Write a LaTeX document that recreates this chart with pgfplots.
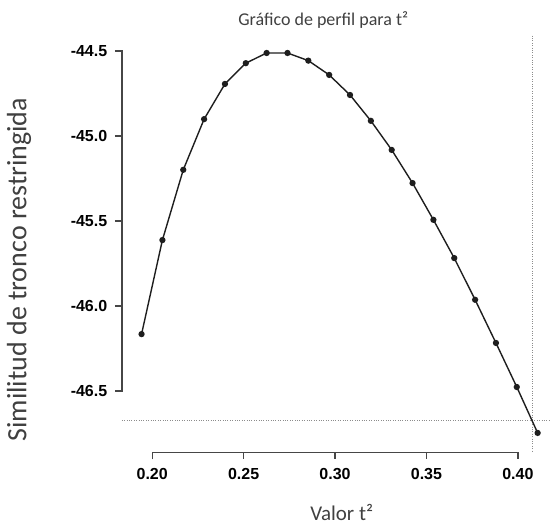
\documentclass[border=0pt]{standalone}
\usepackage{pgfplots}
\pgfplotsset{compat=1.18}
\usepackage{fontspec}
\setmainfont{Carlito}
\newfontfamily\arialfont{Liberation Sans}
\definecolor{curve}{HTML}{1E1E1E}
\definecolor{dotgray}{HTML}{8C8C8C}
\definecolor{axc}{RGB}{70,70,70}
\begin{document}
\begin{tikzpicture}
\begin{axis}[
  scale only axis, width=550pt, height=526pt,
  xmin=0.11678, xmax=0.41732, ymin=-47.2908, ymax=-44.2004,
  hide axis, clip=false,
]
\path (rel axis cs:0,0) rectangle (rel axis cs:1,1);
% reference lines
\addplot[dotgray, line width=0.9pt, dash pattern=on 1pt off 1.4pt, forget plot] coordinates {(0.18344,-46.672) (0.41732,-46.672)};
\addplot[dotgray, line width=0.9pt, dash pattern=on 1pt off 1.4pt, forget plot] coordinates {(0.4077,-44.41) (0.4077,-46.86)};
% y axis
\addplot[axc, line width=1.3pt, mark=none, forget plot] coordinates {(0.17961,-44.5) (0.18344,-44.5) (0.18344,-46.5) (0.17961,-46.5)};
\addplot[axc, line width=1.3pt, mark=none, forget plot] coordinates {(0.17961,-45.0) (0.18344,-45.0)};
\addplot[axc, line width=1.3pt, mark=none, forget plot] coordinates {(0.17961,-45.5) (0.18344,-45.5)};
\addplot[axc, line width=1.3pt, mark=none, forget plot] coordinates {(0.17961,-46.0) (0.18344,-46.0)};
% x axis
\addplot[axc, line width=1.3pt, mark=none, forget plot] coordinates {(0.20,-46.901) (0.20,-46.860) (0.40,-46.860) (0.40,-46.901)};
\addplot[axc, line width=1.3pt, mark=none, forget plot] coordinates {(0.25,-46.860) (0.25,-46.901)};
\addplot[axc, line width=1.3pt, mark=none, forget plot] coordinates {(0.30,-46.860) (0.30,-46.901)};
\addplot[axc, line width=1.3pt, mark=none, forget plot] coordinates {(0.35,-46.860) (0.35,-46.901)};
% data
\addplot[curve, line width=1.4pt, mark=*, mark size=2.4pt, mark options={fill=curve, draw=curve}] coordinates {
(0.1942,-46.165) (0.2056,-45.612) (0.2170,-45.199) (0.2284,-44.901)
(0.2398,-44.694) (0.2512,-44.572) (0.2626,-44.512) (0.2740,-44.512)
(0.2854,-44.557) (0.2968,-44.641) (0.3082,-44.759) (0.3196,-44.911)
(0.3310,-45.082) (0.3424,-45.277) (0.3538,-45.493) (0.3652,-45.718)
(0.3766,-45.963) (0.3880,-46.217) (0.3994,-46.476) (0.4108,-46.746)
};
\node[anchor=east, inner sep=0pt, xshift=-14.5pt, font=\arialfont\bfseries\fontsize{16}{18}\selectfont] at (axis cs:0.18344,-44.5) {-44.5};
\node[anchor=east, inner sep=0pt, xshift=-14.5pt, font=\arialfont\bfseries\fontsize{16}{18}\selectfont] at (axis cs:0.18344,-45.0) {-45.0};
\node[anchor=east, inner sep=0pt, xshift=-14.5pt, font=\arialfont\bfseries\fontsize{16}{18}\selectfont] at (axis cs:0.18344,-45.5) {-45.5};
\node[anchor=east, inner sep=0pt, xshift=-14.5pt, font=\arialfont\bfseries\fontsize{16}{18}\selectfont] at (axis cs:0.18344,-46.0) {-46.0};
\node[anchor=east, inner sep=0pt, xshift=-14.5pt, font=\arialfont\bfseries\fontsize{16}{18}\selectfont] at (axis cs:0.18344,-46.5) {-46.5};
\node[anchor=north, inner sep=0pt, yshift=-16pt, font=\arialfont\bfseries\fontsize{16}{18}\selectfont] at (axis cs:0.20,-46.860) {0.20};
\node[anchor=north, inner sep=0pt, yshift=-16pt, font=\arialfont\bfseries\fontsize{16}{18}\selectfont] at (axis cs:0.25,-46.860) {0.25};
\node[anchor=north, inner sep=0pt, yshift=-16pt, font=\arialfont\bfseries\fontsize{16}{18}\selectfont] at (axis cs:0.30,-46.860) {0.30};
\node[anchor=north, inner sep=0pt, yshift=-16pt, font=\arialfont\bfseries\fontsize{16}{18}\selectfont] at (axis cs:0.35,-46.860) {0.35};
\node[anchor=north, inner sep=0pt, yshift=-16pt, font=\arialfont\bfseries\fontsize{16}{18}\selectfont] at (axis cs:0.40,-46.860) {0.40};
% labels
\node[font=\fontsize{18}{20}\selectfont, text=black!75] at (axis cs:0.29355,-44.318) {Gráfico de perfil para t²};
\node[font=\fontsize{21}{23}\selectfont, text=black!75] at (axis cs:0.30366,-47.212) {Valor t²};
\node[rotate=90, font=\fontsize{28}{30}\selectfont, text=black!75] at (axis cs:0.12716,-45.7867) {Similitud de tronco restringida};
\end{axis}
\end{tikzpicture}
\end{document}
